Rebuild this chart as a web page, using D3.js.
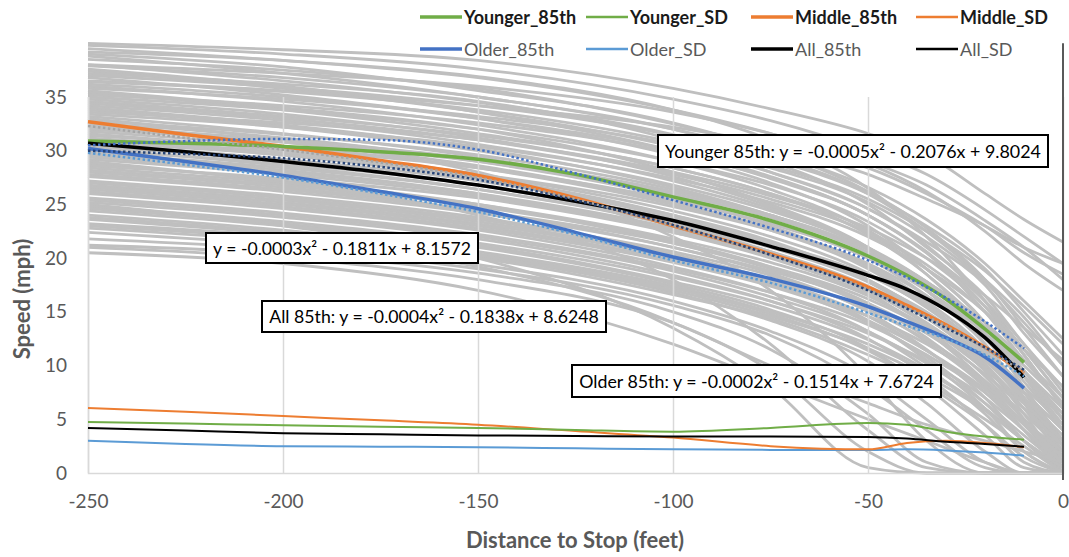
<!DOCTYPE html>
<html>
<head>
<meta charset="utf-8">
<script src="https://cdn.jsdelivr.net/npm/d3@7"></script>
<style>
  body { margin: 0; background: #fff; }
  svg { font-family: Lato, "Open Sans", sans-serif; }
</style>
</head>
<body>
<svg id="chart" width="1069" height="557"></svg>
<script>
const distance = [-250, -225, -200, -175, -150, -125, -100, -75, -50, -40, -30, -20, -10];

// 85th percentile speed (mph)
const younger85 = [30.9, 30.7, 30.4, 29.9, 29.2, 27.8, 25.7, 23.5, 20.2, 18.4, 16.2, 13.4, 10.3];
const middle85  = [32.7, 31.5, 30.4, 29.1, 27.7, 25.6, 23.0, 20.4, 17.3, 15.6, 13.8, 11.7, 9.3];
const older85   = [30.2, 29.0, 27.7, 26.2, 24.6, 22.4, 20.1, 18.1, 15.5, 14.1, 12.6, 10.8, 7.9];
const all85     = [30.7, 29.9, 29.0, 28.0, 26.8, 25.3, 23.5, 21.1, 18.4, 17.1, 15.2, 12.6, 8.9];

// standard deviation of speed (mph)
const youngerSD = [4.75, 4.6, 4.45, 4.3, 4.2, 4.0, 3.85, 4.2, 4.65, 4.5, 3.85, 3.4, 3.1];
const middleSD  = [6.05, 5.7, 5.3, 4.9, 4.5, 3.9, 3.3, 2.5, 2.2, 2.8, 3.0, 2.8, 2.4];
const olderSD   = [3.0, 2.7, 2.5, 2.45, 2.4, 2.3, 2.2, 2.15, 2.15, 2.2, 2.1, 1.9, 1.6];
const allSD     = [4.2, 3.95, 3.7, 3.6, 3.5, 3.45, 3.4, 3.4, 3.35, 3.2, 2.9, 2.7, 2.45];

// polynomial trend lines (dotted)
const youngerTrend = [30.5, 30.9, 31.1, 31.0, 30.1, 27.9, 25.4, 22.8, 19.8, 18.2, 16.3, 14.1, 11.6];
const middleTrend  = [32.3, 31.2, 30.1, 28.9, 27.5, 25.5, 23.0, 20.3, 17.1, 15.4, 13.7, 11.6, 9.4];
const olderTrend   = [29.8, 28.7, 27.5, 26.0, 24.3, 22.2, 19.8, 17.7, 14.9, 13.7, 12.5, 11.0, 9.0];
const allTrend     = [30.0, 29.7, 29.3, 28.5, 27.3, 25.4, 23.1, 20.3, 17.0, 15.3, 13.5, 11.7, 9.6];

const trendLabels = [
    "Younger 85th: y = -0.0005x² - 0.2076x + 9.8024",
    "y = -0.0003x² - 0.1811x + 8.1572",
    "All 85th: y = -0.0004x² - 0.1838x + 8.6248",
    "Older 85th: y = -0.0002x² - 0.1514x + 7.6724"
];

// single vehicle trips (gray background)
const tripDistance = [-250, -200, -150, -100, -75, -50, -35, -20, -10, 0];
const trips = [
    [40.0, 39.4, 38.4, 35.8, 33.9, 31.6, 29.6, 26.0, 23.6, 21.5],
    [39.8, 39.0, 37.6, 34.8, 32.8, 30.0, 27.8, 24.5, 22.0, 19.5],
    [39.5, 38.4, 36.8, 33.8, 31.6, 28.8, 26.2, 22.5, 19.5, 17.0],
    [39.2, 38.4, 36.9, 33.8, 31.0, 26.5, 22.0, 16.0, 11.0, 6.0],
    [39.0, 37.8, 35.6, 32.6, 30.0, 26.2, 22.8, 18.0, 13.5, 9.0],
    [38.8, 37.2, 35.0, 32.0, 29.5, 26.0, 22.5, 18.0, 14.5, 10.0],
    [38.5, 37.5, 35.8, 32.5, 30.2, 27.8, 25.5, 23.0, 21.0, 19.5],
    [38.0, 37.2, 36.0, 33.6, 31.6, 29.0, 26.8, 23.5, 21.0, 18.0],
    [37.9, 36.8, 35.0, 32.0, 29.8, 26.6, 23.6, 19.5, 16.0, 12.5],
    [38.0, 36.5, 34.5, 31.5, 29.0, 25.0, 21.0, 16.5, 12.0, 8.0],
    [37.6, 36.0, 33.6, 30.0, 27.4, 24.0, 20.5, 15.0, 10.5, 6.5],
    [37.4, 35.8, 33.6, 30.4, 28.0, 24.6, 21.2, 16.0, 11.5, 7.0],
    [37.2, 36.2, 34.6, 31.0, 28.0, 24.6, 21.5, 17.5, 13.0, 9.0],
    [37.0, 35.9, 34.2, 31.4, 29.2, 26.0, 23.0, 19.0, 15.0, 11.0],
    [36.8, 35.2, 33.0, 29.6, 27.0, 23.0, 19.0, 14.0, 9.0, 4.0],
    [36.5, 35.6, 34.2, 32.2, 30.6, 28.4, 26.0, 23.0, 20.5, 18.5],
    [36.4, 35.5, 33.8, 30.8, 28.6, 25.5, 22.5, 18.8, 15.5, 12.0],
    [36.2, 35.0, 33.0, 30.0, 27.6, 24.0, 20.6, 15.5, 11.0, 6.0],
    [36.0, 34.6, 32.4, 29.0, 26.4, 22.5, 18.5, 13.0, 8.0, 3.0],
    [35.8, 34.8, 33.2, 30.6, 28.4, 25.2, 22.0, 17.8, 14.0, 10.0],
    [35.6, 34.0, 32.0, 28.0, 25.0, 21.0, 17.0, 12.0, 7.5, 2.5],
    [35.4, 33.8, 31.6, 28.4, 26.0, 22.2, 18.5, 13.5, 9.0, 4.5],
    [35.2, 34.2, 32.6, 29.8, 27.5, 24.0, 20.5, 16.0, 12.0, 7.5],
    [35.0, 33.8, 32.0, 29.0, 26.8, 23.4, 20.0, 15.5, 11.5, 7.0],
    [34.8, 33.4, 31.2, 27.6, 24.8, 21.0, 17.5, 13.0, 9.0, 5.0],
    [34.6, 33.2, 31.4, 28.4, 26.0, 22.6, 19.0, 14.0, 9.5, 5.0],
    [34.4, 33.0, 31.0, 27.8, 25.5, 22.4, 19.4, 15.0, 11.0, 6.0],
    [34.2, 32.8, 30.6, 27.2, 24.6, 20.8, 17.0, 12.0, 7.5, 3.0],
    [34.0, 32.4, 30.2, 26.6, 24.0, 20.5, 17.0, 12.5, 8.5, 4.0],
    [33.8, 32.2, 30.0, 26.8, 24.4, 21.0, 17.8, 13.5, 9.5, 5.5],
    [33.6, 32.6, 31.0, 28.0, 25.8, 22.8, 20.0, 16.5, 13.5, 10.5],
    [33.4, 32.2, 30.4, 27.4, 25.2, 22.0, 19.0, 15.0, 11.5, 8.0],
    [33.2, 31.6, 29.4, 25.8, 23.4, 20.0, 16.5, 12.0, 7.0, 1.5],
    [33.0, 31.0, 28.0, 22.0, 17.0, 9.0, 3.0, 0.0, 0.0, 0.0],
    [32.8, 31.5, 29.6, 26.4, 24.0, 20.8, 17.8, 13.5, 9.5, 5.0],
    [32.6, 31.2, 29.0, 25.6, 23.0, 19.2, 15.8, 11.0, 6.5, 2.0],
    [32.4, 30.8, 28.6, 25.2, 22.8, 19.4, 16.0, 11.5, 7.0, 2.0],
    [32.2, 31.0, 29.2, 26.2, 24.0, 20.8, 17.8, 14.0, 10.5, 7.0],
    [32.0, 30.8, 29.0, 26.0, 23.8, 20.5, 17.5, 13.6, 10.0, 6.5],
    [31.8, 30.4, 28.4, 25.0, 22.6, 19.0, 15.6, 11.2, 7.0, 2.5],
    [31.6, 30.0, 27.8, 24.4, 22.0, 18.6, 15.4, 11.0, 6.5, 1.0],
    [31.4, 30.2, 28.4, 25.4, 23.2, 20.0, 17.0, 13.0, 9.5, 6.0],
    [31.2, 29.8, 27.6, 24.0, 21.4, 17.8, 14.5, 10.0, 5.5, 0.5],
    [31.0, 29.6, 27.4, 24.0, 21.6, 18.0, 14.8, 10.2, 6.0, 1.5],
    [30.8, 29.6, 27.8, 24.8, 22.6, 19.5, 16.5, 12.5, 9.0, 5.5],
    [30.6, 29.2, 27.2, 23.8, 21.4, 18.0, 14.8, 10.5, 6.8, 3.0],
    [30.4, 29.0, 26.8, 23.2, 20.6, 17.0, 13.8, 9.5, 5.0, 0.0],
    [30.2, 28.6, 26.4, 23.0, 20.4, 16.8, 13.2, 8.5, 4.5, 0.5],
    [30.0, 28.8, 26.8, 23.6, 21.4, 18.4, 15.5, 11.5, 8.0, 4.5],
    [29.8, 28.4, 26.4, 23.2, 21.0, 17.8, 15.0, 11.0, 7.5, 4.0],
    [29.6, 28.2, 26.0, 22.4, 20.0, 16.6, 13.4, 9.0, 5.0, 1.0],
    [29.4, 28.0, 26.0, 22.8, 20.6, 17.4, 14.6, 10.8, 7.5, 4.0],
    [29.2, 27.8, 25.8, 22.6, 20.4, 17.2, 14.4, 10.5, 7.0, 3.5],
    [29.0, 27.0, 24.0, 18.0, 12.0, 4.0, 0.5, 0.0, 0.0, 0.0],
    [28.8, 27.2, 25.0, 21.4, 19.0, 15.5, 12.2, 8.0, 4.0, 0.0],
    [28.6, 27.4, 25.6, 22.4, 20.2, 17.0, 14.0, 10.0, 6.5, 3.0],
    [28.4, 27.0, 25.0, 21.8, 19.6, 16.5, 13.6, 9.6, 6.5, 3.0],
    [28.2, 26.8, 24.8, 21.6, 19.2, 15.8, 12.6, 8.2, 4.5, 1.0],
    [28.0, 26.6, 24.4, 21.0, 18.6, 15.0, 11.5, 7.0, 3.0, 0.0],
    [27.8, 26.4, 24.4, 21.4, 19.2, 16.2, 13.5, 9.8, 6.5, 3.0],
    [27.6, 26.2, 24.2, 21.0, 18.8, 15.8, 13.0, 9.2, 6.0, 2.5],
    [27.2, 25.8, 23.8, 20.4, 18.0, 14.6, 11.4, 7.5, 4.0, 0.5],
    [27.0, 25.6, 23.6, 20.6, 18.4, 15.2, 12.4, 8.6, 5.0, 1.5],
    [26.8, 25.4, 23.4, 20.2, 17.8, 14.2, 10.5, 6.0, 2.0, 0.0],
    [26.6, 25.2, 23.2, 20.0, 17.6, 14.0, 10.8, 6.5, 3.0, 0.0],
    [26.4, 25.0, 23.0, 19.8, 17.6, 14.6, 12.0, 8.5, 5.5, 2.0],
    [26.2, 24.8, 22.8, 19.6, 17.4, 14.2, 11.4, 7.8, 4.8, 2.0],
    [26.0, 24.6, 22.6, 19.2, 16.8, 13.2, 9.8, 5.5, 2.0, 0.0],
    [25.6, 24.2, 22.2, 19.0, 16.8, 13.8, 11.0, 7.5, 4.5, 1.5],
    [25.4, 24.0, 22.0, 18.8, 16.4, 13.2, 10.2, 6.5, 3.5, 0.5],
    [25.2, 23.8, 21.8, 18.4, 16.0, 12.5, 9.0, 4.5, 1.0, 0.0],
    [25.0, 23.0, 20.0, 13.5, 8.0, 0.5, 0.0, 0.0, 0.0, 0.0],
    [24.8, 23.4, 21.4, 18.2, 16.0, 13.0, 10.4, 7.0, 4.0, 1.0],
    [24.6, 23.2, 21.2, 17.8, 15.6, 12.4, 9.6, 6.0, 3.0, 0.0],
    [24.4, 23.0, 21.0, 17.6, 15.2, 11.6, 8.0, 3.5, 0.5, 0.0],
    [24.0, 22.6, 20.6, 17.4, 15.0, 12.0, 9.4, 6.0, 3.0, 0.5],
    [23.8, 22.4, 20.4, 17.2, 14.8, 11.4, 8.2, 4.5, 1.5, 0.0],
    [23.6, 22.2, 20.2, 16.8, 14.2, 10.4, 6.5, 2.0, 0.0, 0.0],
    [23.2, 22.0, 20.2, 17.0, 14.6, 11.6, 9.0, 5.8, 3.0, 0.5],
    [23.0, 21.8, 20.0, 16.6, 14.4, 11.0, 8.4, 5.0, 2.5, 0.0],
    [22.8, 21.5, 19.2, 14.0, 9.5, 2.0, 0.0, 0.0, 0.0, 0.0],
    [22.4, 21.2, 19.4, 16.0, 13.2, 9.0, 5.0, 1.0, 0.0, 0.0],
    [21.8, 20.8, 19.0, 15.6, 12.8, 8.0, 4.0, 0.5, 0.0, 0.0],
    [21.2, 20.4, 18.6, 15.0, 11.5, 5.5, 1.0, 0.0, 0.0, 0.0],
    [21.0, 20.0, 18.0, 14.0, 10.0, 6.5, 4.5, 3.0, 2.0, 1.0],
    [20.5, 19.5, 17.0, 12.0, 8.5, 5.0, 3.0, 1.0, 0.0, 0.0]
];

const xTicks = [-250, -200, -150, -100, -50, 0];
const yTicks = [0, 5, 10, 15, 20, 25, 30, 35];

const svg = d3.select("#chart");

const x = d3.scaleLinear().domain([-250, 0]).range([88, 1063]);
const y = d3.scaleLinear().domain([0, 35]).range([473, 97]);

const line = d3.line()
    .x(d => x(d[0]))
    .y(d => y(d[1]))
    .curve(d3.curveMonotoneX);

const pairs = (xs, vs) => vs.map((v, i) => [xs[i], v]);

// trips in the back
svg.append("g")
    .selectAll("path")
    .data(trips)
    .enter()
    .append("path")
    .attr("d", d => line(pairs(tripDistance, d)))
    .attr("fill", "none")
    .attr("stroke", "#bfbfbf")
    .attr("stroke-width", 2.8);

// vertical gridlines + bottom line
svg.append("g")
    .attr("transform", `translate(0,${y(0)})`)
    .call(d3.axisBottom(x).tickValues(xTicks).tickSize(-(y(0) - y(35))).tickFormat(""))
    .call(g => g.select(".domain").attr("stroke", "#d9d9d9").attr("stroke-width", 1.5))
    .call(g => g.selectAll(".tick line").attr("stroke", d => d === 0 ? "none" : "#d9d9d9").attr("stroke-width", 1.5));

// axis at distance 0
svg.append("line")
    .attr("x1", x(0)).attr("x2", x(0))
    .attr("y1", y(40)).attr("y2", y(0) + 7)
    .attr("stroke", "#595959")
    .attr("stroke-width", 2);

// tick labels
svg.append("g")
    .attr("transform", `translate(0,${y(0)})`)
    .call(d3.axisBottom(x).tickValues(xTicks).tickSize(0).tickPadding(22).tickFormat(d => String(d)))
    .call(g => g.select(".domain").remove())
    .attr("font-family", null)
    .attr("font-size", 19)
    .selectAll("text").attr("fill", "#595959");

svg.append("g")
    .attr("transform", `translate(${x(-250)},0)`)
    .call(d3.axisLeft(y).tickValues(yTicks).tickSize(0).tickPadding(21).tickFormat(d => String(d)))
    .call(g => g.select(".domain").remove())
    .attr("font-family", null)
    .attr("font-size", 19)
    .selectAll("text").attr("fill", "#595959");

// axis titles
svg.append("text")
    .attr("x", 575).attr("y", 548)
    .attr("text-anchor", "middle")
    .attr("font-size", 22).attr("font-weight", "bold")
    .attr("fill", "#595959")
    .text("Distance to Stop (feet)");

svg.append("text")
    .attr("transform", "translate(30,299) rotate(-90)")
    .attr("text-anchor", "middle")
    .attr("font-size", 22).attr("font-weight", "bold")
    .attr("fill", "#595959")
    .text("Speed (mph)");

// summary series
const series = [
    { name: "Younger_85th", values: younger85, color: "#70ad47", width: 3.5 },
    { name: "Younger_SD", values: youngerSD, color: "#70ad47", width: 2 },
    { name: "Middle_85th", values: middle85, color: "#ed7d31", width: 3.5 },
    { name: "Middle_SD", values: middleSD, color: "#ed7d31", width: 2 },
    { name: "Older_85th", values: older85, color: "#4472c4", width: 3.5 },
    { name: "Older_SD", values: olderSD, color: "#5b9bd5", width: 2 },
    { name: "All_85th", values: all85, color: "#000000", width: 3.5 },
    { name: "All_SD", values: allSD, color: "#000000", width: 2 }
];

const drawOrder = ["Older_SD", "Middle_SD", "All_SD", "Younger_SD", "Older_85th", "Middle_85th", "Younger_85th", "All_85th"];

svg.append("g")
    .selectAll("path")
    .data(drawOrder.map(n => series.find(s => s.name === n)))
    .enter()
    .append("path")
    .attr("d", d => line(pairs(distance, d.values)))
    .attr("fill", "none")
    .attr("stroke", d => d.color)
    .attr("stroke-width", d => d.width);

// dotted trend lines
const trends = [
    { values: middleTrend, color: "#a5a5a5" },
    { values: olderTrend, color: "#5b9bd5" },
    { values: allTrend, color: "#264478" },
    { values: youngerTrend, color: "#4472c4" }
];

svg.append("g")
    .selectAll("path")
    .data(trends)
    .enter()
    .append("path")
    .attr("d", d => line(pairs(distance, d.values)))
    .attr("fill", "none")
    .attr("stroke", d => d.color)
    .attr("stroke-width", 2.5)
    .attr("stroke-dasharray", "2.5,2.5");

// equation boxes (pixel boxes as in the original figure)
const boxes = [
    { x: 658, y: 135, w: 390, h: 32 },
    { x: 206, y: 233, w: 272, h: 30 },
    { x: 262, y: 301, w: 344, h: 31 },
    { x: 572, y: 365, w: 369, h: 32 }
];

const labelG = svg.append("g")
    .selectAll("g")
    .data(trendLabels)
    .enter()
    .append("g")
    .attr("transform", (d, i) => `translate(${boxes[i].x},${boxes[i].y})`);

labelG.append("rect")
    .attr("width", (d, i) => boxes[i].w)
    .attr("height", (d, i) => boxes[i].h)
    .attr("fill", "#fff")
    .attr("stroke", "#000")
    .attr("stroke-width", 2);

labelG.append("text")
    .attr("x", (d, i) => boxes[i].w / 2)
    .attr("y", (d, i) => boxes[i].h / 2 + 6.5)
    .attr("text-anchor", "middle")
    .attr("font-size", 20)
    .attr("fill", "#000")
    .text(d => d)
    .each(function(d, i) {
        // shrink the font until the equation fits its box
        const target = boxes[i].w - 14;
        const w = this.getComputedTextLength();
        if (w > target) {
            d3.select(this).attr("font-size", (20 * target / w).toFixed(2));
        }
    });

// legend
const legendCols = [420, 586, 751, 916];
const legendRows = [17, 49];

const legend = svg.append("g")
    .selectAll("g")
    .data(series)
    .enter()
    .append("g")
    .attr("transform", (d, i) => `translate(${legendCols[i % 4]},${legendRows[Math.floor(i / 4)]})`);

legend.append("line")
    .attr("x1", 0).attr("x2", 42)
    .attr("stroke", d => d.color)
    .attr("stroke-width", d => d.width === 2 ? 2.5 : 3.5);

legend.append("text")
    .attr("x", 44)
    .attr("y", 6.5)
    .attr("font-size", 18)
    .attr("font-weight", (d, i) => i < 4 ? "bold" : "normal")
    .attr("fill", (d, i) => i < 4 ? "#1a1a1a" : "#595959")
    .text(d => d.name);
</script>
</body>
</html>
